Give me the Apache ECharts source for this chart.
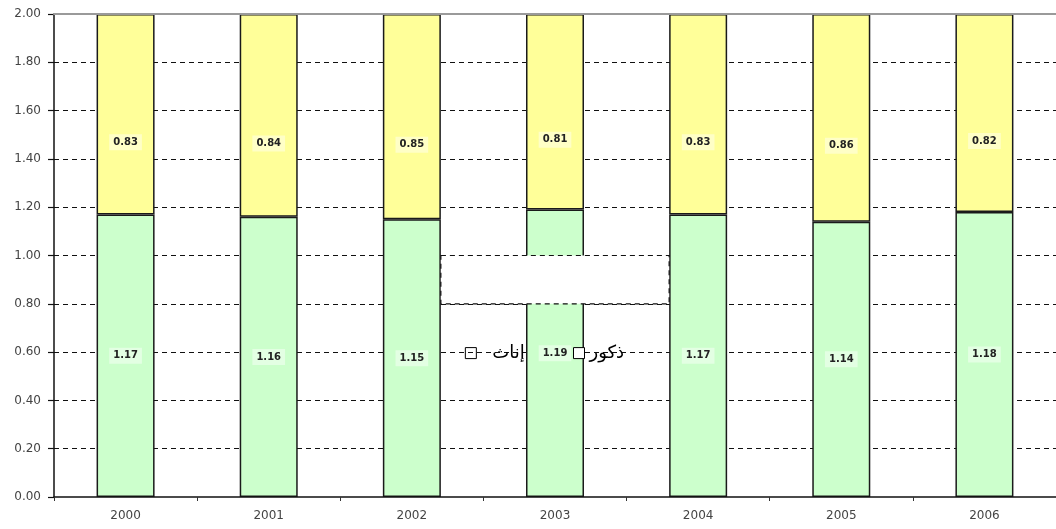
<!DOCTYPE html>
<html>
<head>
<meta charset="utf-8">
<script src="https://cdn.jsdelivr.net/npm/echarts@6/dist/echarts.min.js"></script>
<style>
  html, body { margin: 0; padding: 0; background: #fff; }
  #chart { width: 1056px; height: 529px; }
</style>
</head>
<body>
<div id="chart"></div>
<script>
// Years on the category axis
const years = ['2000', '2001', '2002', '2003', '2004', '2005', '2006'];
// Lower (green) segment of each stacked bar
const males = [1.17, 1.16, 1.15, 1.19, 1.17, 1.14, 1.18];
// Upper (yellow) segment of each stacked bar
const females = [0.83, 0.84, 0.85, 0.81, 0.83, 0.86, 0.82];
const maleName = 'ذكور';
const femaleName = 'إناث';

const BAR_W = 58;
const tickFont = 'DejaVu Sans, Verdana, sans-serif';
const labelBase = {
  show: true,
  fontFamily: tickFont,
  fontSize: 10,
  fontWeight: 'bold',
  color: '#222',
  backgroundColor: 'rgba(255,255,255,0.45)',
  padding: [3, 4],
  formatter: p => p.value.toFixed(2)
};

const chart = echarts.init(document.getElementById('chart'), null, { renderer: 'canvas' });

chart.setOption({
  animation: false,
  backgroundColor: '#fff',
  grid: { left: 54, top: 14, width: 1003, bottom: 32 },
  xAxis: [{
    type: 'category',
    data: years,
    boundaryGap: true,
    z: 5,
    axisLine: { lineStyle: { color: '#111', width: 1.5 } },
    axisTick: { show: true, length: 4, lineStyle: { color: '#333' } },
    axisLabel: { color: '#444', fontSize: 12, fontFamily: tickFont, margin: 13 }
  }, {
    type: 'category',
    data: years,
    position: 'top',
    z: 5,
    axisLine: { lineStyle: { color: '#9a9a9a', width: 2 } },
    axisTick: { show: false },
    axisLabel: { show: false }
  }],
  yAxis: {
    type: 'value',
    min: 0,
    max: 2,
    interval: 0.2,
    axisLine: { show: true, lineStyle: { color: '#111', width: 1.5 } },
    axisTick: { show: true, length: 6, lineStyle: { color: '#111', width: 1.2 } },
    axisLabel: {
      color: '#444', fontSize: 12, fontFamily: tickFont, margin: 13,
      formatter: v => v.toFixed(2)
    },
    splitLine: {
      show: true,
      showMinLine: false,
      showMaxLine: false,
      lineStyle: { color: '#111', width: 1.2, type: [5, 4] }
    }
  },
  series: [{
    name: maleName,
    type: 'bar',
    stack: 'total',
    barWidth: BAR_W,
    data: males,
    itemStyle: { color: '#ccffcc', borderColor: '#1a1a1a', borderWidth: 1.5 },
    label: Object.assign({}, labelBase, { position: 'inside' })
  }, {
    name: femaleName,
    type: 'bar',
    stack: 'total',
    barWidth: BAR_W,
    data: females,
    itemStyle: { color: '#ffff99', borderColor: '#1a1a1a', borderWidth: 1.5 },
    label: Object.assign({}, labelBase, { position: 'inside', offset: [0, 28] })
  }]
});

// Legend frame and entries placed relative to the axes
const px = (cat) => chart.convertToPixel({ xAxisIndex: 0 }, cat);
const py = (v) => chart.convertToPixel({ yAxisIndex: 0 }, v);

const boxLeft = px('2002') + BAR_W / 2;
const boxRight = px('2004') - BAR_W / 2;
const boxTop = py(1.0);
const boxBottom = py(0.8);
const rowY = py(0.6);

const legendText = {
  fontFamily: 'DejaVu Sans, sans-serif',
  fontSize: 18,
  color: '#000'
};

chart.setOption({
  legend: [{
    data: [{ name: femaleName, itemStyle: { color: 'transparent', borderColor: '#000', borderWidth: 1 } }],
    left: boxLeft + 19,
    top: rowY - 13,
    icon: 'rect',
    itemWidth: 11,
    itemHeight: 11,
    textStyle: Object.assign({}, legendText, { padding: [0, 0, 0, 11] }),
    selectedMode: false
  }, {
    data: [{ name: maleName, itemStyle: { color: '#fff', borderColor: '#000', borderWidth: 1 } }],
    left: px('2003') + 13,
    top: rowY - 13,
    icon: 'rect',
    itemWidth: 11,
    itemHeight: 11,
    textStyle: legendText,
    selectedMode: false
  }],
  graphic: [{
    type: 'rect',
    z: 10,
    shape: { x: boxLeft, y: boxTop, width: boxRight - boxLeft, height: boxBottom - boxTop },
    style: { fill: '#fff', stroke: '#111', lineWidth: 1.2, lineDash: [5, 4] }
  }]
});
</script>
</body>
</html>
